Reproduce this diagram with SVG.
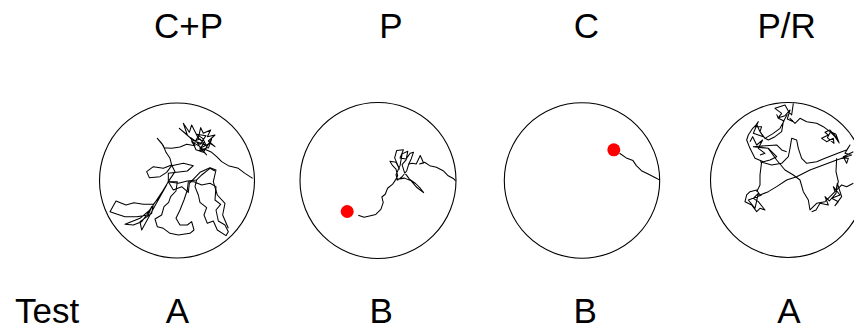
<svg xmlns="http://www.w3.org/2000/svg" width="854" height="328" viewBox="0 0 854 328">
  <style>
    .lbl { font-family: "Liberation Sans", Arial, sans-serif; font-size: 35px; fill: #000; text-anchor: middle; }
    .arena { fill: #fff; stroke: #000; stroke-width: 1.1; }
    .trk { fill: none; stroke: #000; stroke-width: 1.05; stroke-linejoin: round; vector-effect: non-scaling-stroke; }
    .start { fill: #f00; }
  </style>
  <rect width="854" height="328" fill="#fff"/>

  <!-- condition labels -->
  <g id="headers">
    <text class="lbl" x="188.5" y="37.5">C+P</text>
    <text class="lbl" x="391" y="37.5">P</text>
    <text class="lbl" x="586.5" y="37.5">C</text>
    <text class="lbl" x="786.7" y="37.5">P/R</text>
  </g>

  <!-- panel 1: C+P -->
  <g id="panel-cp">
    <circle class="arena" cx="177" cy="180.5" r="77.5"/>
    <g transform="translate(100,115) scale(0.3333)">
      <polyline class="trk" points="458,190 435,175 415,160 385,152 365,140 350,125 335,112 318,104 300,100 330,85 345,95 325,78 345,60 322,65 332,45 310,55 302,38 295,70 275,30 268,52 250,25 262,60 238,40 282,78 300,72 315,90 290,80 305,105 320,120 300,95 275,80 285,92 260,88 240,96 215,100 192,98 186,86 172,70 190,92 198,112 210,130 215,150 190,160 160,155 140,170 148,188 180,185 200,172 215,152 250,145 280,152 262,168 230,172 205,175 205,200 235,205 262,198 290,195 305,180 330,160 345,168"/>
      <polyline class="trk" points="290,195 285,215 295,240 300,262 320,278 312,300 322,325 340,318 352,345 378,362 385,350 375,330 355,318 348,285 362,268 345,255 348,215 330,205 305,210 282,200 265,200 262,225 252,255 240,285 228,310 240,330 262,330 275,320 282,345 270,355 235,360 210,355 190,340 172,335 165,312 185,300 192,275 206,262 212,245 228,228 232,200 205,200 190,225 175,250 160,268 130,268 102,263 78,270 48,258 30,290 52,298 75,305 110,305 145,300 155,275 140,300 125,320 100,330 75,328 120,310 150,285 200,210 165,272 125,345 120,320 155,295 160,268"/>
      <polyline class="trk" points="215,150 225,170 205,200 220,225 245,215 265,232 268,205 300,172 330,158 348,165 340,200 352,240 375,265 368,300 385,340"/>
      <polyline class="trk" points="280,92 292,68 312,82 298,108 322,98 308,70 290,58 318,62 300,88 272,68 288,104 310,112 335,72 325,100"/>
    </g>
  </g>

  <!-- panel 2: P -->
  <g id="panel-p">
    <circle class="arena" cx="378" cy="180.5" r="78"/>
    <g transform="translate(295,100) scale(0.3367)">
      <polyline class="trk" points="188,342 205,348 218,345 240,340 255,325 262,305 258,288 268,280 275,262 290,250 298,238 305,225 300,205 290,195 282,182 300,185 310,205 296,172 302,150 322,148 312,172 330,175 342,158 352,155 345,175 338,190 332,210 318,228 305,238 300,222 312,195 318,160 335,152 330,178 318,192 325,215 340,235 358,248 372,262 382,275 362,260 345,240 325,232 305,235 298,238"/>
      <polyline class="trk" points="338,190 348,188 360,190 372,165 382,187 370,190 385,185 400,195 420,200 440,210 455,225 470,233 477,240"/>
    </g>
    <circle class="start" cx="347.2" cy="211.5" r="6.5"/>
  </g>

  <!-- panel 3: C -->
  <g id="panel-c">
    <circle class="arena" cx="582" cy="180.5" r="77.7"/>
    <g transform="translate(500,100) scale(0.3367)">
      <polyline class="trk" points="355,158 375,172 395,180 405,195 420,210 440,220 460,230 475,238"/>
    </g>
    <circle class="start" cx="613.8" cy="149.8" r="6.5"/>
  </g>

  <!-- panel 4: P/R -->
  <g id="panel-pr">
    <circle class="arena" cx="788" cy="180" r="77.5"/>
    <g transform="translate(710,95) scale(0.3333)">
      <polyline class="trk" points="250,25 245,60 235,48 225,30 195,40 215,55 205,68 225,62 240,45 232,72 250,80 240,70 255,85 270,70 290,80 320,85 340,95 360,110 375,125 385,140 380,128 360,105 345,112 355,120 335,130 350,140 370,130 372,145 352,128 362,110 378,118 388,145"/>
      <polyline class="trk" points="232,58 220,80 215,110 195,125 175,135 165,130 190,115 210,100 222,78 205,70 200,58"/>
      <polyline class="trk" points="165,130 150,110 160,125 130,115 145,80 135,95 155,95 150,110 140,88 128,100 115,120 110,135 120,160 135,190 160,200 180,195 200,185 175,160 130,155 200,150 215,165 230,170"/>
      <polyline class="trk" points="150,200 185,210 215,205 235,185 240,160 245,130 260,135 265,160 275,190 290,205 320,200 345,190 370,180 395,170 410,165 420,150 405,175 425,180 395,190 415,190 410,205 400,185 430,170"/>
      <polyline class="trk" points="410,185 380,195 340,210 300,225 260,245 230,255 200,275 175,290 150,300 140,285 120,290 110,300 105,320 125,330 140,350 150,340 165,345 145,320 130,310 145,295 135,340 115,315 155,300"/>
      <polyline class="trk" points="155,200 150,240 150,270 140,290"/>
      <polyline class="trk" points="175,160 200,195 225,225 250,240 270,255 280,290 295,315 300,345 320,325 345,320 360,305 375,290 385,280 395,270 410,275 430,265"/>
      <polyline class="trk" points="375,290 370,275 390,300 365,310 385,320 375,332 395,305 382,265 378,295 358,318 345,305 355,330 330,325 318,345 305,350"/>
      <polyline class="trk" points="380,190 378,230 385,260 378,285"/>
      <polyline class="trk" points="120,140 128,125 140,150 158,135 145,160 165,175 150,180"/>
    </g>
  </g>

  <!-- test assignment row -->
  <g id="footer">
    <text class="lbl" x="47.2" y="322.5">Test</text>
    <text class="lbl" x="177.5" y="322.5">A</text>
    <text class="lbl" x="381.3" y="322.5">B</text>
    <text class="lbl" x="585.3" y="322.5">B</text>
    <text class="lbl" x="789" y="322.5">A</text>
  </g>
</svg>
